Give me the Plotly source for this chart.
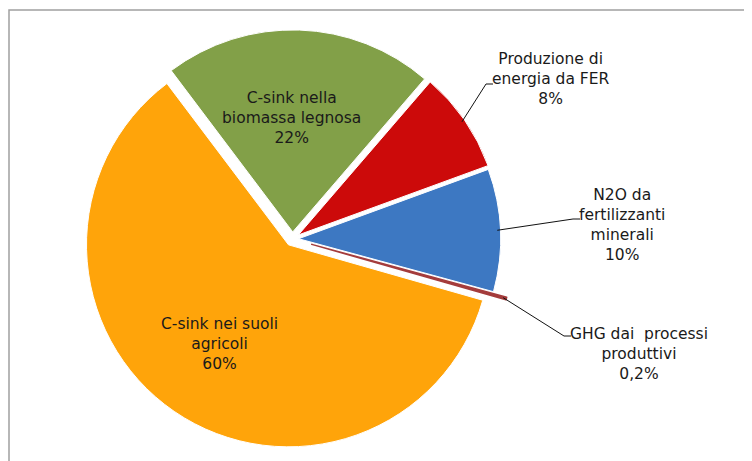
import math
import plotly.graph_objects as go

# ---- data ----
categories = [
    "C-sink nella<br>biomassa legnosa",
    "Produzione di<br>energia da FER",
    "N2O da<br>fertilizzanti<br>minerali",
    "GHG dai  processi<br>produttivi",
    "C-sink nei suoli<br>agricoli",
]
values = [21.6, 8.1, 9.8, 0.2, 60.3]

# ---- styles ----
colors = ["#82A048", "#CC0A0A", "#3D78C2", "#A43C3C", "#FFA40A"]
line_colors = ["white", "white", "white", "#A43C3C", "white"]
line_widths = [1, 1, 1, 1.5, 1]
pulls = [0.035, 0.035, 0.03, 0.099, 0.035]
OFF = 8                 # page body margin
W, H = 752 - OFF, 461 - OFF
rotation = -37
FONT = "DejaVu Sans"
FS = 15.5
TXT = "#1a1a1a"


def sx(x):  # screen px -> paper x
    return (x - OFF) / W


def sy(y):  # screen px -> paper y
    return 1 - (y - OFF) / H


# pie box: centre at screen (292.5, 239), half size 222 (vertical) / 240 (horizontal)
dom_x = [sx(292.5 - 240), sx(292.5 + 240)]
dom_y = [max(0.0, sy(239 + 222)), min(1.0, sy(239 - 222))]

total = sum(values)


def fmt(v):
    p = v / total * 100
    s = f"{p:.1f}".replace(".", ",") if p < 1 else f"{p:.0f}"
    return s + "%"


pct_text = [fmt(v) for v in values]
slice_text = [f"{c}<br>{t}" for c, t in zip(categories, pct_text)]

fig = go.Figure(go.Pie(
    labels=categories,
    values=values,
    sort=False,
    direction="clockwise",
    rotation=rotation,
    pull=pulls,
    marker=dict(colors=colors, line=dict(color=line_colors, width=line_widths)),
    text=slice_text,
    textinfo="none",
    domain=dict(x=dom_x, y=dom_y),
    showlegend=False,
    hoverinfo="label+percent",
))

# geometry of the pie (same formulas plotly uses), in figure pixels
cx = W * (dom_x[0] + dom_x[1]) / 2
boxW = W * (dom_x[1] - dom_x[0])
boxH = H * (dom_y[1] - dom_y[0])
cy = H * (1 - dom_y[0]) - boxH / 2
r = min(boxW, boxH) / 2 / (1 + max(pulls))

mids = []
acc = rotation
for v in values:
    span = v / total * 360
    mids.append(acc + span / 2)
    acc += span


def fp2paper(x, y):  # figure px -> paper
    return x / W, 1 - y / H


# label placement: text-block centre (screen px); connector end for outside ones
label_pos = {0: (291, 118), 1: (551, 79), 2: (622, 225), 3: (639, 354), 4: (219, 344)}
conn_end = {1: (493, 84), 2: (580, 219), 3: (571, 336)}

annotations = []
shapes = []
for i, (tx, ty) in label_pos.items():
    annotations.append(dict(
        x=sx(tx), y=sy(ty), xref="paper", yref="paper", text=slice_text[i],
        showarrow=False, xanchor="center", yanchor="middle", align="center",
        font=dict(family=FONT, size=FS, color=TXT),
    ))
    if i not in conn_end:
        continue
    th = math.radians(mids[i])
    k = (1 + pulls[i]) * 0.985
    tipx = cx + k * r * math.sin(th)
    tipy = cy - k * r * math.cos(th)
    ex, ey = conn_end[i]
    pts = [fp2paper(tipx, tipy), (sx(ex - 7), sy(ey)), (sx(ex), sy(ey))]
    path = "M {} {} L {} {} L {} {}".format(*[c for p in pts for c in p])
    shapes.append(dict(type="path", path=path, xref="paper", yref="paper",
                       line=dict(color="#111111", width=1)))

# chart-area frame
shapes.append(dict(type="rect", xref="paper", yref="paper",
                   x0=sx(9), x1=1.05, y0=-0.05, y1=sy(10),
                   line=dict(color="#A0A0A0", width=1.5), layer="below"))

fig.update_layout(
    width=W, height=H,
    margin=dict(l=0, r=0, t=0, b=0),
    paper_bgcolor="white",
    plot_bgcolor="white",
    separators=",.",
    annotations=annotations,
    shapes=shapes,
)

fig.write_html("out.html")
